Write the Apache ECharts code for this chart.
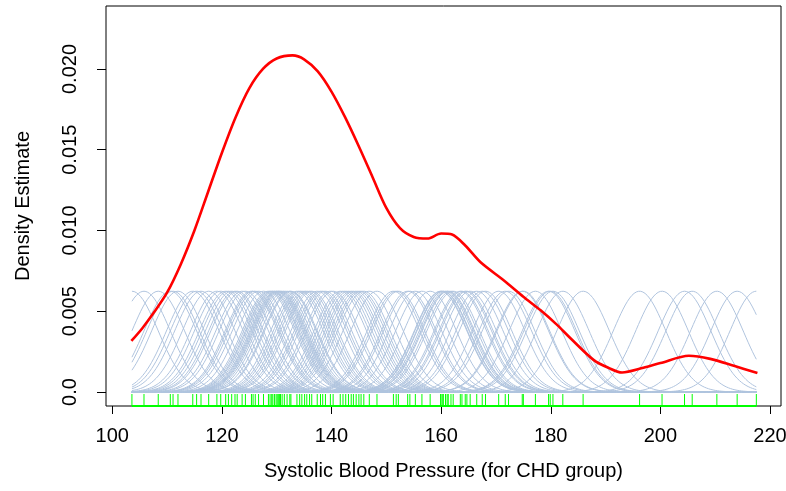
<!DOCTYPE html>
<html>
<head>
<meta charset="utf-8">
<script src="https://cdn.jsdelivr.net/npm/echarts@6/dist/echarts.min.js"></script>
<style>
html,body{margin:0;padding:0;background:#fff;}
#chart{width:786px;height:491px;}
</style>
</head>
<body>
<div id="chart"></div>
<script>
// ---- Data ----
// Systolic blood pressure values of the CHD group (rug marks)
const rugValues = [
  103.6, 105.8, 108.4, 110.6, 111.1, 112.0, 114.7, 115.4, 116.2, 117.6,
  119.1, 119.8, 120.7, 121.2, 121.8, 122.4, 122.8, 123.7, 124.3, 125.4,
  125.7, 126.1, 126.7, 127.6, 128.5, 128.8, 129.3, 129.9, 130.3, 130.7,
  129.1, 129.6, 130.1, 130.5, 131.0, 131.4, 131.9, 132.4, 132.6,
  133.7, 134.2, 134.6, 135.1, 135.5, 136.0, 136.4,
  137.4, 138.0, 138.4, 138.9, 139.8, 140.3,
  141.6, 142.1, 142.6, 143.1, 143.6, 144.0, 144.5, 145.0, 145.4, 145.9,
  146.9, 148.3, 151.3, 151.8, 152.2, 153.9, 154.3, 155.3, 156.5, 158.0,
  159.9, 160.3, 161.1,
  160.0, 160.4, 160.8, 161.3, 161.8, 162.2, 163.5, 163.8, 164.4, 164.7,
  165.3, 166.5, 167.5, 168.1, 170.5, 171.7, 172.3, 174.8, 175.0, 177.2,
  179.6, 179.9, 180.4, 182.2, 185.9,
  196.2, 200.3, 204.4, 205.8, 210.3, 214.0, 217.5
];
// Overall density estimate (red curve)
const densityX = [103.5, 105.5, 107.5, 110.0, 112.5, 115.0, 117.5, 120.0, 122.5, 125.0,
  127.5, 130.0, 132.9, 135.0, 137.5, 140.0, 142.5, 145.0, 147.5, 150.0, 152.5,
  155.0, 157.5, 160.0, 162.0, 164.4, 167.2, 171.4, 175.0, 178.1, 181.0, 183.6,
  187.8, 190.5, 193.0, 196.9, 200.0, 205.2, 209.1, 213.4, 217.7];
const densityY = [0.00316, 0.00395, 0.00487, 0.00615, 0.00790, 0.01000, 0.01240,
  0.01480, 0.01700, 0.01880, 0.02000, 0.02065, 0.02084, 0.02060, 0.01985, 0.01860,
  0.01700, 0.01520, 0.01330, 0.01140, 0.01015, 0.00960, 0.00950, 0.00981, 0.00975,
  0.00907, 0.00803, 0.00692, 0.00590, 0.00507, 0.00420, 0.00333, 0.00199, 0.00150,
  0.00121, 0.00150, 0.00179, 0.00224, 0.00205, 0.00162, 0.00117];
// Individual kernel bumps: read peak height and spread
const kernelPeak = 0.00624;
const kernelSD = 4.8;
const xTicks = [100, 120, 140, 160, 180, 200, 220];
const yTicks = [0, 0.005, 0.010, 0.015, 0.020];
const yTickLabels = ['0.0', '0.005', '0.010', '0.015', '0.020'];
const xTitle = 'Systolic Blood Pressure (for CHD group)';
const yTitle = 'Density Estimate';

// ---- Build series ----
const xMinData = Math.min(...rugValues), xMaxData = Math.max(...rugValues);
const grid = [];
for (let x = xMinData; x <= xMaxData + 1e-9; x += 0.4) grid.push(x);
grid.push(xMaxData);

const series = [];
rugValues.forEach(function (c) {
  series.push({
    type: 'line', silent: true, symbol: 'none', animation: false,
    lineStyle: { color: '#B0C4DE', width: 1 },
    data: grid.map(function (x) {
      const z = (x - c) / kernelSD;
      return [x, kernelPeak * Math.exp(-0.5 * z * z)];
    }),
    z: 2
  });
});
series.push({
  type: 'line', silent: true, symbol: 'none', animation: false, smooth: 0.3,
  lineStyle: { color: '#FF0000', width: 2.6 },
  data: densityX.map(function (x, i) { return [x, densityY[i]]; }),
  z: 5
});
const Y_MIN = -0.000867, Y_MAX = 0.0239;
// rug ticks
series.push({
  type: 'custom', silent: true, animation: false, z: 6,
  data: rugValues.map(function (v) { return [v]; }),
  renderItem: function (params, api) {
    const p = api.coord([api.value(0), Y_MIN]);
    return { type: 'line', shape: { x1: p[0], y1: p[1], x2: p[0], y2: p[1] - 12 },
      style: { stroke: '#00FF00', lineWidth: 1 } };
  }
});
// rug baseline
series.push({
  type: 'line', silent: true, symbol: 'none', animation: false, z: 6,
  lineStyle: { color: '#00FF00', width: 2 },
  data: [[xMinData, Y_MIN], [xMaxData, Y_MIN]]
});

const chart = echarts.init(document.getElementById('chart'), null, { renderer: 'canvas' });
const font = 'Liberation Sans, Arial, sans-serif';
chart.setOption({
  animation: false,
  grid: { left: 106, top: 6, right: 5, bottom: 85, show: true, borderColor: '#000', borderWidth: 1,
    backgroundColor: 'transparent', containLabel: false, outerBoundsMode: 'none' },
  xAxis: {
    type: 'value', min: 98.87, max: 222.0,
    axisLine: { show: false, onZero: false },
    splitLine: { show: false },
    axisTick: { show: true, length: 8, customValues: xTicks, lineStyle: { color: '#000' } },
    axisLabel: { customValues: xTicks, margin: 20, fontSize: 20, color: '#000', fontFamily: font },
    name: xTitle, nameLocation: 'middle', nameGap: 55,
    nameTextStyle: { fontSize: 20, color: '#000', fontFamily: font }
  },
  yAxis: {
    type: 'value', min: Y_MIN, max: Y_MAX,
    axisLine: { show: false, onZero: false },
    splitLine: { show: false },
    axisTick: { show: true, length: 9, customValues: yTicks, lineStyle: { color: '#000' } },
    axisLabel: { customValues: yTicks, rotate: 90, margin: 26, fontSize: 20, color: '#000', fontFamily: font,
      formatter: function (v) { const i = yTicks.findIndex(function (t) { return Math.abs(t - v) < 1e-9; }); return i >= 0 ? yTickLabels[i] : ''; } },
    name: yTitle, nameLocation: 'middle', nameGap: 73, nameRotate: 90,
    nameTextStyle: { fontSize: 20, color: '#000', fontFamily: font }
  },
  series: series
});
</script>
</body>
</html>
